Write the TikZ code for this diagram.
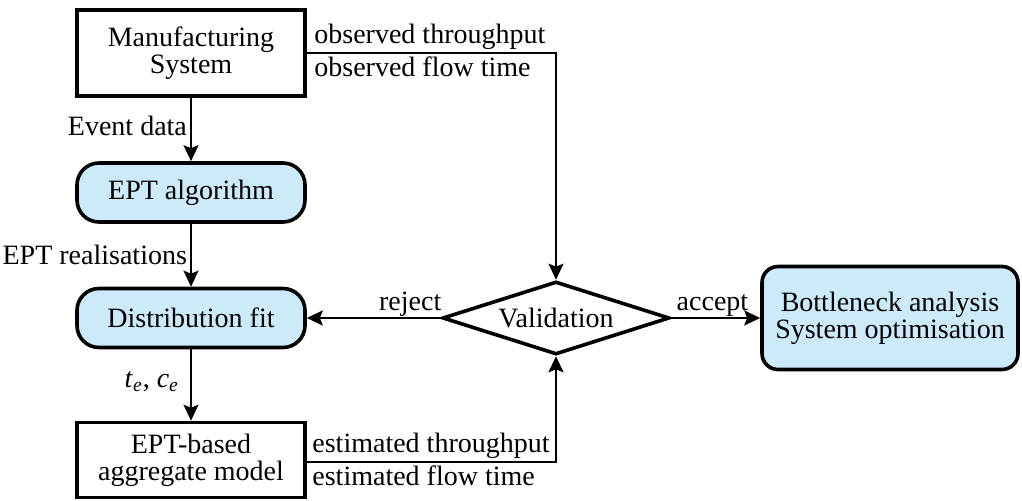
\documentclass[tikz,border=0pt]{standalone}
\usepackage{fontspec}
\newfontfamily\timesfont{Liberation Serif}
\usetikzlibrary{shapes.geometric,arrows.meta}
\definecolor{boxblue}{HTML}{CDEAFB}
\tikzset{
  every node/.style={font=\timesfont\fontsize{14}{15.5}\selectfont},
  plainbox/.style={draw, line width=1.8pt, minimum width=114pt, align=center, inner sep=2pt},
  pill/.style={draw, line width=1.8pt, fill=boxblue, rounded corners=11pt, minimum width=114pt, minimum height=29.5pt, align=center},
  dec/.style={draw, line width=1.8pt, shape=diamond, aspect=3.1, inner sep=1pt, minimum width=113.5pt, minimum height=36.5pt},
  conn/.style={line width=1.1pt},
  arr/.style={conn, -{Stealth[length=8pt,width=7.5pt,inset=1.5pt]}},
  lbl/.style={inner sep=1.5pt}
}
\begin{document}
\begin{tikzpicture}[x=0.5pt,y=-0.5pt]
\useasboundingbox (0,0) rectangle (1022,501);
\node[plainbox, minimum height=43pt] (ms) at (191,53) {Manufacturing\\[-2pt]System};
\node[pill] (ept) at (191,192.5) {EPT algorithm};
\node[pill] (dist) at (191,318) {Distribution fit};
\node[plainbox, minimum height=37.5pt] (agg) at (191,460) {EPT-based\\[-2pt]aggregate model};
\node[dec] (val) at (556,318) {Validation};
\node[pill, rounded corners=8pt, minimum width=128pt, minimum height=51.5pt] (bn) at (890,318) {Bottleneck analysis\\[-2pt]System optimisation};

\draw[arr] (ms) -- (ept) node[lbl, pos=0.45, left] {Event data};
\draw[arr] (ept) -- (dist) node[lbl, pos=0.5, left] {EPT realisations};
\draw[arr] (dist) -- (agg) node[lbl, pos=0.45, left, xshift=-4pt] {\textit{t}\textsubscript{\textit{e}}, \textit{c}\textsubscript{\textit{e}}};

\coordinate (obs) at (556,53);
\draw[arr] (ms.east) -- (obs) -- (val.north);
\node[lbl, anchor=south west] (ot) at (311,53) {observed throughput};
\node[lbl, anchor=north west] (of) at (311,53) {observed flow time};

\coordinate (estc) at (556,462);
\coordinate (agge) at (agg.east |- estc);
\draw[arr] (agge) -- (estc) -- (val.south);
\node[lbl, anchor=south west] (et) at (309,462) {estimated throughput};
\node[lbl, anchor=north west] (ef) at (309,462) {estimated flow time};

\draw[arr] (val.west) -- (dist.east);
\node[inner sep=0.5pt, anchor=south east] (rj) at ([xshift=1pt]val.west) {reject};
\draw[arr] (val.east) -- (bn.west);
\node[inner sep=0.5pt, anchor=south west] (ac) at ([xshift=2pt]val.east) {accept};
\end{tikzpicture}
\end{document}
